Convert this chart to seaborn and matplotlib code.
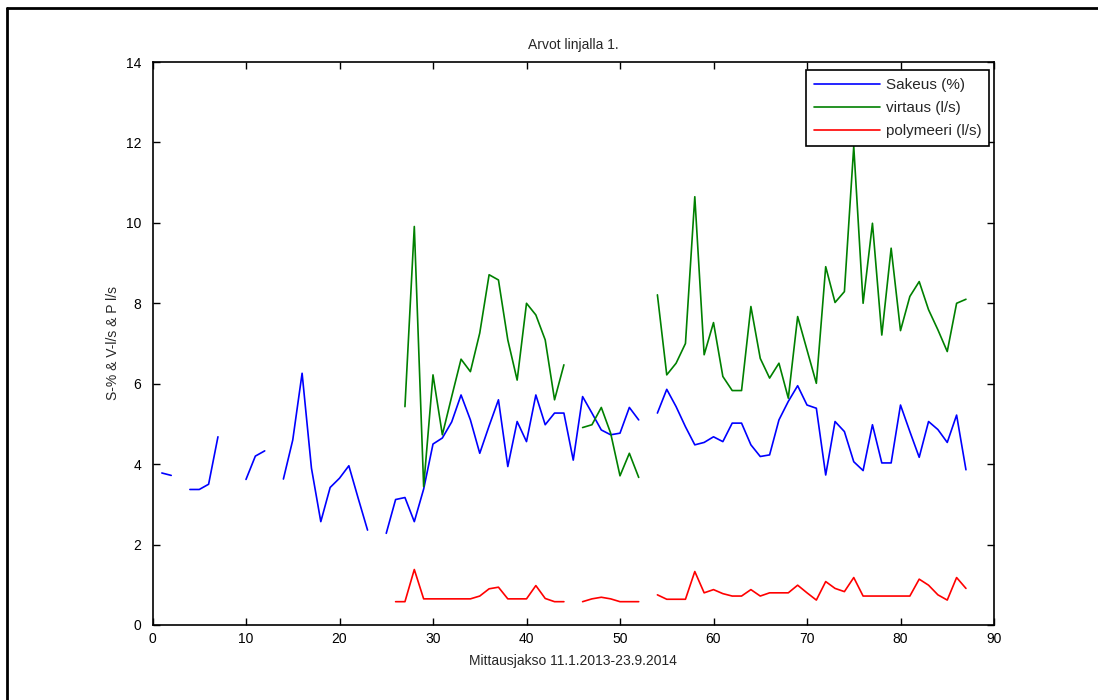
import numpy as np
import pandas as pd
import matplotlib
matplotlib.use("Agg")
import matplotlib.pyplot as plt
from matplotlib.lines import Line2D
import seaborn as sns

nan = np.nan
# measurement index 1..87
mittaus = list(range(1, 88))

sakeus = [3.78, 3.72, nan, 3.37, 3.37, 3.50, 4.68, nan, nan, 3.62,
          4.20, 4.33, nan, 3.63, 4.60, 6.26, 3.90, 2.57, 3.42, 3.65,
          3.96, 3.15, 2.36, nan, 2.28, 3.12, 3.17, 2.57, 3.38, 4.50,
          4.65, 5.05, 5.72, 5.10, 4.27, 4.95, 5.60, 3.94, 5.06, 4.56,
          5.72, 4.98, 5.27, 5.27, 4.10, 5.68, 5.27, 4.85, 4.73, 4.77,
          5.41, 5.10, nan, 5.27, 5.86, 5.43, 4.93, 4.48, 4.54, 4.68,
          4.56, 5.02, 5.02, 4.48, 4.19, 4.23, 5.10, 5.56, 5.95, 5.47,
          5.39, 3.73, 5.06, 4.81, 4.06, 3.84, 4.98, 4.03, 4.03, 5.47,
          4.81, 4.17, 5.06, 4.86, 4.54, 5.22, 3.86]

virtaus = [nan] * 26 + [
          5.43, 9.91, 3.44, 6.22, 4.73, 5.68, 6.61, 6.30, 7.26, 8.71,
          8.58, 7.09, 6.09, 8.00, 7.71, 7.09, 5.60, 6.47, nan, 4.91,
          4.98, 5.41, 4.77, 3.71, 4.27, 3.67, nan, 8.21, 6.22, 6.51,
          7.00, 10.65, 6.72, 7.52, 6.18, 5.83, 5.83, 7.92, 6.63, 6.14,
          6.51, 5.64, 7.67, 6.84, 6.01, 8.91, 8.02, 8.29, 11.90, 8.00,
          9.99, 7.21, 9.37, 7.32, 8.17, 8.54, 7.84, 7.34, 6.80, 8.00,
          8.10]

polymeeri = [nan] * 25 + [
          0.58, 0.58, 1.38, 0.65, 0.65, 0.65, 0.65, 0.65, 0.65, 0.72,
          0.90, 0.94, 0.65, 0.65, 0.65, 0.98, 0.66, 0.58, 0.58, nan,
          0.58, 0.65, 0.69, 0.65, 0.58, 0.58, 0.58, nan, 0.75, 0.64,
          0.64, 0.64, 1.33, 0.80, 0.88, 0.78, 0.72, 0.72, 0.88, 0.72,
          0.80, 0.80, 0.80, 0.99, 0.80, 0.62, 1.08, 0.91, 0.83, 1.18,
          0.72, 0.72, 0.72, 0.72, 0.72, 0.72, 1.14, 0.99, 0.75, 0.62,
          1.18, 0.91]

series_names = ["Sakeus (%)", "virtaus (l/s)", "polymeeri (l/s)"]
series_colors = ["#0000ff", "#008000", "#ff0000"]

# long table; segment ids keep the gaps (NaN) unconnected
frames = []
for name, vals in zip(series_names, [sakeus, virtaus, polymeeri]):
    v = np.array(vals, dtype=float)
    seg = np.cumsum(np.isnan(v))
    frames.append(pd.DataFrame({"x": mittaus, "y": v, "series": name,
                                "seg": [f"{name}_{s}" for s in seg]}))
df = pd.concat(frames).dropna()

sns.set_style("ticks")
plt.rcParams["font.family"] = ["Liberation Sans", "DejaVu Sans"]
plt.rcParams["xtick.direction"] = "in"
plt.rcParams["ytick.direction"] = "in"

fig = plt.figure(figsize=(10.98, 7.0), dpi=100)
ax = fig.add_axes([152.5 / 1098, 1 - 625 / 700, (994 - 152.5) / 1098, (625 - 62) / 700])

sns.lineplot(data=df, x="x", y="y", hue="series", units="seg", estimator=None,
             hue_order=series_names, palette=series_colors, linewidth=1.2,
             ax=ax, legend=True)

ax.set_xlim(0, 90)
ax.set_ylim(0, 14)
ax.set_xticks(range(0, 91, 10))
ax.set_yticks(range(0, 15, 2))
ax.tick_params(axis="both", which="both", direction="in", length=5, width=1,
               top=True, right=True, labelsize=10, colors="black")
ax.tick_params(axis="x", pad=5)
ax.tick_params(axis="y", pad=8)
for sp in ax.spines.values():
    sp.set_visible(True)
    sp.set_linewidth(1.2)
    sp.set_color("black")

ax.set_title("Arvot linjalla 1.", fontsize=10, pad=9)
ax.set_xlabel("Mittausjakso 11.1.2013-23.9.2014", fontsize=10, labelpad=6)
ax.set_ylabel("S-% & V-l/s & P l/s", fontsize=10, labelpad=4)

handles, labels = ax.get_legend_handles_labels()
leg = ax.legend(handles, labels, loc="upper right", bbox_to_anchor=(0.994, 0.985),
                fontsize=11, frameon=True, fancybox=False, framealpha=1,
                edgecolor="black", handlelength=4.3, handletextpad=0.4,
                labelspacing=0.6, borderpad=0.5, borderaxespad=0)
leg.get_frame().set_linewidth(1.2)

# outer figure frame (top and left edges visible)
fig.add_artist(Line2D([7 / 1098, 1.0], [1 - 8 / 700, 1 - 8 / 700],
                      transform=fig.transFigure, color="black", lw=2))
fig.add_artist(Line2D([7 / 1098, 7 / 1098], [0.0, 1 - 8 / 700],
                      transform=fig.transFigure, color="black", lw=2))

fig.savefig("out.png", dpi=100, facecolor="white")
